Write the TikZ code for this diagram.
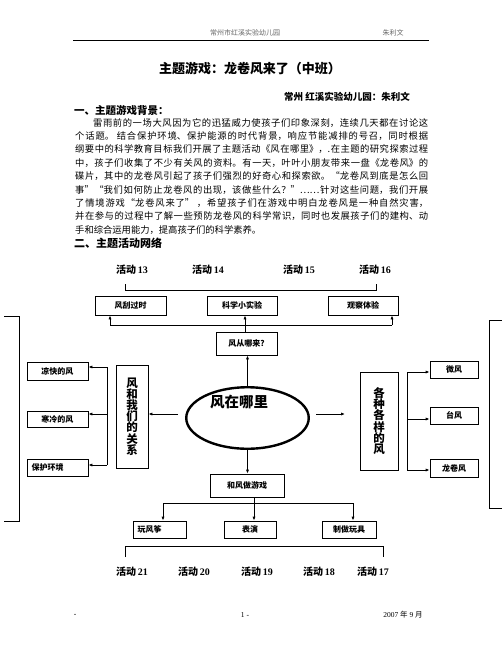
\documentclass[tikz,border=0pt]{standalone}
\usepackage{fontspec}
\setmainfont{Liberation Serif}
\newfontfamily\cjk{Noto Sans CJK SC}
\usetikzlibrary{arrows.meta,shapes.geometric}
\XeTeXlinebreaklocale "zh"
\XeTeXlinebreakskip=0pt plus 1.5pt
\newcommand{\hd}[1]{{\cjk\bfseries 活动}\,{\bfseries #1}}
\begin{document}
\begin{tikzpicture}[x=1pt,y=-1pt,
  bx/.style={draw, line width=0.8pt, inner sep=0pt, font=\cjk\bfseries\fontsize{8}{9}\selectfont},
  vbx/.style={draw, line width=0.8pt, inner sep=0pt, align=center, font=\cjk\bfseries\fontsize{11.5}{11.2}\selectfont},
  arr/.style={line width=0.8pt, -{Latex[length=4pt,width=3.2pt]}},
  ln/.style={line width=0.8pt},
  act/.style={font=\fontsize{10}{12}\selectfont, inner sep=0pt}]
\useasboundingbox (0,0) rectangle (502,649);
\fill[white] (0,0) rectangle (502,649);
% header
\node[font=\cjk\fontsize{7}{8}\selectfont, text=black!60, inner sep=0pt] (hdr) at (245,33) {常州市红溪实验幼儿园};
\node[font=\cjk\fontsize{7}{8}\selectfont, text=black!60, inner sep=0pt] (hdr2) at (393,33) {朱利文};
\draw[line width=0.8pt] (73,40) -- (429,40);
% title
\node[font=\cjk\bfseries\fontsize{13}{15}\selectfont, inner sep=0pt] (title) at (250,69) {主题游戏：龙卷风来了（中班）};
\node[anchor=east, font=\cjk\bfseries\fontsize{9.5}{11}\selectfont, inner sep=0pt] (auth) at (410,97) {常州 红溪实验幼儿园：朱利文};
\node[anchor=west, font=\cjk\bfseries\fontsize{10.5}{12}\selectfont, inner sep=0pt] (s1) at (74,110) {一、主题游戏背景：};
\node[anchor=north west, inner sep=0pt, text width=353pt, align=justify, font=\cjk\fontsize{9.3}{13.4}\selectfont] (para) at (75,118) {\hspace*{18pt}雷雨前的一场大风因为它的迅猛威力使孩子们印象深刻，连续几天都在讨论这\linebreak
个话题。 结合保护环境、保护能源的时代背景，响应节能减排的号召，同时根据\linebreak
纲要中的科学教育目标我们开展了主题活动《风在哪里》，.在主题的研究探索过程\linebreak
中，孩子们收集了不少有关风的资料。有一天，叶叶小朋友带来一盘《龙卷风》的\linebreak
碟片，其中的龙卷风引起了孩子们强烈的好奇心和探索欲。“龙卷风到底是怎么回\linebreak
事”“我们如何防止龙卷风的出现，该做些什么？”……针对这些问题，我们开展\linebreak
了情境游戏“龙卷风来了” ，希望孩子们在游戏中明白龙卷风是一种自然灾害，\hfill\linebreak
并在参与的过程中了解一些预防龙卷风的科学常识，同时也发展孩子们的建构、动\linebreak
手和综合运用能力，提高孩子们的科学素养。};
\node[anchor=west, font=\cjk\bfseries\fontsize{11}{12}\selectfont, inner sep=0pt] (s2) at (74,243) {二、主题活动网络};
% top activities
\node[act] (t13) at (132,270) {\hd{13}};
\node[act] (t14) at (208,270) {\hd{14}};
\node[act] (t15) at (299,270) {\hd{15}};
\node[act] (t16) at (375,270) {\hd{16}};
\coordinate (tb1) at (125,284); \coordinate (tb2) at (125,290);
\coordinate (tb3) at (376,290); \coordinate (tb4) at (376,284);
\draw[ln] (tb1) -- (tb2) -- (tb3) -- (tb4);
% top boxes
\node[bx, minimum width=71, minimum height=19] (a1) at (130.5,305.5) {风刮过时};
\node[bx, minimum width=70, minimum height=19] (a2) at (242,305.5) {科学小实验};
\node[bx, minimum width=70, minimum height=19] (a3) at (363,305.5) {观察体验};
\coordinate (h1) at (110,325); \coordinate (h2) at (245,325); \coordinate (h3) at (392,325);
\draw[ln] (h1) -- (h3);
\draw[arr] (h1) -- (h1 |- a1.south);
\draw[arr] (h2) -- (h2 |- a2.south);
\draw[arr] (h3) -- (h3 |- a3.south);
\node[bx, minimum width=61, minimum height=23] (q) at (246.5,343.5) {风从哪来?};
\draw[ln] (q.north -| h2) -- (h2);
% center ellipse
\node[draw, ellipse, line width=2.4pt, minimum width=122.5, minimum height=61.5, inner sep=0pt] (E) at (247.5,418) {};
\node[font=\cjk\bfseries\fontsize{14.5}{16}\selectfont, inner sep=0pt] (Et) at (239,402) {风在哪里};
\draw[arr] (E.north) -- (E.north |- q.south);
\node[bx, minimum width=74, minimum height=23] (G) at (247,485.5) {和风做游戏};
\draw[arr] (E.south) -- (E.south |- G.north);
% bottom branch
\coordinate (b1) at (163,503); \coordinate (b2) at (254,503); \coordinate (b3) at (353,503);
\draw[ln] (b2 |- G.south) -- (b2);
\draw[ln] (b1) -- (b3);
\node[bx, minimum width=53, minimum height=17, text width=44, align=left] (c1) at (159.5,529.5) {玩风筝};
\node[bx, minimum width=52, minimum height=17] (c2) at (250,529.5) {表演};
\node[bx, minimum width=54, minimum height=17] (c3) at (349,529.5) {制做玩具};
\draw[arr] (b1) -- (b1 |- c1.north);
\draw[arr] (b2) -- (b2 |- c2.north);
\draw[arr] (b3) -- (b3 |- c3.north);
% bottom bracket
\coordinate (bb1) at (125,557); \coordinate (bb2) at (125,546);
\coordinate (bb3) at (383,546); \coordinate (bb4) at (383,557);
\draw[ln] (bb1) -- (bb2) -- (bb3) -- (bb4);
\node[act] (t21) at (132,572) {\hd{21}};
\node[act] (t20) at (194,572) {\hd{20}};
\node[act] (t19) at (257,572) {\hd{19}};
\node[act] (t18) at (319,572) {\hd{18}};
\node[act] (t17) at (373,572) {\hd{17}};
% left side
\node[vbx, minimum width=32, minimum height=103] (L) at (132,416.5) {风\\和\\我\\们\\的\\关\\系};
\coordinate (le) at (178,414);
\draw[arr] (le) -- (le -| L.east);
\node[bx, minimum width=61, minimum height=18] (l1) at (57.5,371) {凉快的风};
\node[bx, minimum width=61, minimum height=16] (l2) at (57.5,419) {寒冷的风};
\node[bx, minimum width=61, minimum height=17, text width=52, align=left] (l3) at (57.5,467.5) {保护环境};
\coordinate (lv1) at (107,367); \coordinate (lv2) at (107,414); \coordinate (lv3) at (107,465);
\draw[ln] (lv1) -- (lv3);
\draw[arr] (lv1) -- (lv1 -| l1.east);
\draw[arr] (lv2) -- (lv2 -| l2.east);
\draw[arr] (lv3) -- (lv3 -| l3.east);
% right side
\node[vbx, minimum width=38, minimum height=98] (R) at (379,421) {各\\种\\各\\样\\的\\风};
\coordinate (re) at (316,414); \coordinate (rt) at (345,414);
\draw[arr] (re) -- (rt);
\node[bx, minimum width=48, minimum height=17] (r1) at (454,369.5) {微风};
\node[bx, minimum width=48, minimum height=17] (r2) at (454,415.5) {台风};
\node[bx, minimum width=48, minimum height=18] (r3) at (454,468) {龙卷风};
\coordinate (rv1) at (407,372); \coordinate (rv2) at (407,419); \coordinate (rv3) at (407,470);
\draw[ln] (rv1) -- (rv3);
\draw[arr] (rv1) -- (rv1 -| r1.west);
\draw[arr] (rv2) -- (rv2 -| r2.west);
\draw[arr] (rv3) -- (rv3 -| r3.west);
% outer brackets
\draw[ln] (4,316) -- (19,316) -- (19,521) -- (4,521);
\draw[ln] (502,320) -- (489,320) -- (489,508) -- (502,508);
% footer
\node[font=\fontsize{7.5}{9}\selectfont, inner sep=0pt] (f1) at (75,615) {-};
\node[font=\fontsize{7.5}{9}\selectfont, inner sep=0pt] (f2) at (245,615) {1 -};
\node[font=\fontsize{7.5}{9}\selectfont, inner sep=0pt] (f3) at (403,615) {2007 {\cjk 年} 9 {\cjk 月}};
\end{tikzpicture}
\end{document}
